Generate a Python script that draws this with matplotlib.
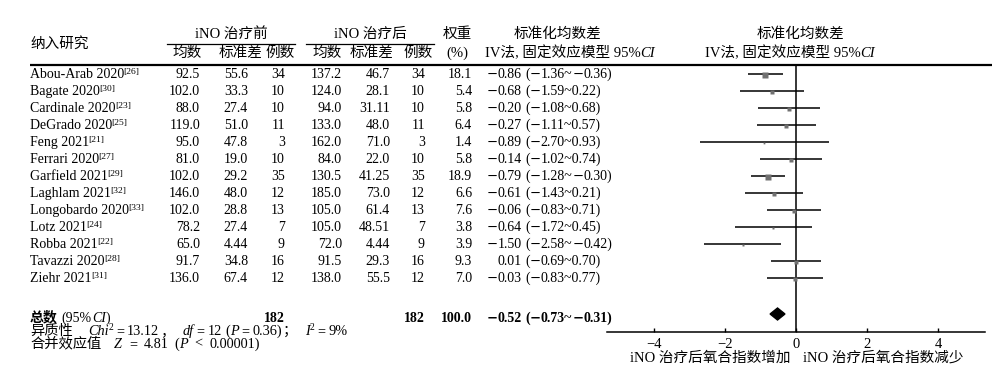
import matplotlib
matplotlib.use('Agg')
import matplotlib.pyplot as plt
from matplotlib.patches import Polygon
import numpy as np

# ---------------- data ----------------
studies = ["Abou-Arab 2020", "Bagate 2020", "Cardinale 2020", "DeGrado 2020", "Feng 2021",
           "Ferrari 2020", "Garfield 2021", "Laghlam 2021", "Longobardo 2020", "Lotz 2021",
           "Robba 2021", "Tavazzi 2020", "Ziehr 2021"]
refs = ["26", "30", "23", "25", "21", "27", "29", "32", "33", "24", "22", "28", "31"]
pre_mean = [92.5, 102.0, 88.0, 119.0, 95.0, 81.0, 102.0, 146.0, 102.0, 78.2, 65.0, 91.7, 136.0]
pre_sd = [55.6, 33.3, 27.4, 51.0, 47.8, 19.0, 29.2, 48.0, 28.8, 27.4, 4.44, 34.8, 67.4]
pre_n = [34, 10, 10, 11, 3, 10, 35, 12, 13, 7, 9, 16, 12]
post_mean = [137.2, 124.0, 94.0, 133.0, 162.0, 84.0, 130.5, 185.0, 105.0, 105.0, 72.0, 91.5, 138.0]
post_sd = [46.7, 28.1, 31.11, 48.0, 71.0, 22.0, 41.25, 73.0, 61.4, 48.51, 4.44, 29.3, 55.5]
post_n = [34, 10, 10, 11, 3, 10, 35, 12, 13, 7, 9, 16, 12]
weights = [18.1, 5.4, 5.8, 6.4, 1.4, 5.8, 18.9, 6.6, 7.6, 3.8, 3.9, 9.3, 7.0]
smd = [-0.86, -0.68, -0.20, -0.27, -0.89, -0.14, -0.79, -0.61, -0.06, -0.64, -1.50, 0.01, -0.03]
ci_lo = [-1.36, -1.59, -1.08, -1.11, -2.70, -1.02, -1.28, -1.43, -0.83, -1.72, -2.58, -0.69, -0.83]
ci_hi = [-0.36, 0.22, 0.68, 0.57, 0.93, 0.74, -0.30, 0.21, 0.71, 0.45, -0.42, 0.70, 0.77]
total_pre_n = 182
total_post_n = 182
total_weight = 100.0
pooled = -0.52
pooled_lo = -0.73
pooled_hi = -0.31
xticks = [-4, -2, 0, 2, 4]

# ---------------- figure ----------------
plt.rcParams['font.family'] = ['Liberation Serif', 'Noto Sans CJK SC']
plt.rcParams['axes.unicode_minus'] = True
FS = 10
HFS = 10.5
BOFF = 4.8  # baseline offset from visual centre (pixels)
MINUS = '\u2212'

fig = plt.figure(figsize=(10, 3.81), dpi=100)
ax_t = fig.add_axes([0, 0, 1, 1])
ax_t.set_xlim(0, 1000)
ax_t.set_ylim(381, 0)
ax_t.axis('off')
renderer = fig.canvas.get_renderer()


def T(x, y, s, ha='left', size=FS, **kw):
    return ax_t.text(x, y + BOFF, s, va='baseline', ha=ha, fontsize=size, **kw)


def runs(x, y, parts, ha='left', **base):
    items = []
    total = 0.0
    for p in parts:
        if isinstance(p, (int, float)):
            items.append((None, float(p)))
            total += p
            continue
        s, opt = p
        kw = dict(fontsize=FS)
        kw.update(base)
        kw.update(opt)
        sup = kw.pop('sup', False)
        yy = y + BOFF
        if sup:
            kw['fontsize'] = kw['fontsize'] * 0.68
            yy = y + BOFF - 4.5
        t = ax_t.text(0, yy, s, va='baseline', ha='left', **kw)
        w = t.get_window_extent(renderer).width
        items.append((t, w))
        total += w
    if ha == 'right':
        cur = x - total
    elif ha == 'center':
        cur = x - total / 2
    else:
        cur = x
    for t, w in items:
        if t is not None:
            t.set_x(cur)
        cur += w


def num_parts(s):
    parts = []
    chunks = s.split(MINUS)
    for k, c in enumerate(chunks):
        if k > 0:
            parts.append((MINUS, {'family': 'DejaVu Sans', 'fontsize': FS * 0.95}))
        if c:
            parts.append((c, {}))
    return parts


def fmt(v):
    return f"{v:.2f}" if round(v, 1) != v else f"{v:.1f}"


def m(v):
    return f"{v:.2f}".replace('-', MINUS)


# header
T(30, 43, "纳入研究", size=HFS)
T(231, 33, "iNO 治疗前", ha='center', size=HFS)
T(370, 33, "iNO 治疗后", ha='center', size=HFS)
ax_t.plot([167, 295], [43.5, 43.5], color='black', lw=0.9)
ax_t.plot([306, 434], [43.5, 43.5], color='black', lw=0.9)
for xc, s in [(187, "均数"), (241, "标准差"), (280, "例数"), (327, "均数"), (372, "标准差"), (418, "例数")]:
    T(xc, 52, s, ha='center', size=HFS)
T(457, 33, "权重", ha='center', size=HFS)
T(457, 52, "(%)", ha='center', size=HFS)
T(557, 33, "标准化均数差", ha='center', size=HFS)
runs(570, 52, [("IV法, 固定效应模型 95%", {}), ("CI", {'style': 'italic'})], ha='center', fontsize=HFS)
T(800, 33, "标准化均数差", ha='center', size=HFS)
runs(790, 52, [("IV法, 固定效应模型 95%", {}), ("CI", {'style': 'italic'})], ha='center', fontsize=HFS)
ax_t.plot([30, 992], [65, 65], color='black', lw=1.6, solid_capstyle='butt')

# rows
row_y = [73.5 + 17.0 * i for i in range(len(studies))]
for i, y in enumerate(row_y):
    runs(30, y, [(studies[i], {}), -0.5, ("[" + refs[i] + "]", {'sup': True})])
    T(200, y, f"{pre_mean[i]:.1f}", ha='right')
    T(248, y, fmt(pre_sd[i]), ha='right')
    T(285, y, f"{pre_n[i]}", ha='right')
    T(342, y, f"{post_mean[i]:.1f}", ha='right')
    T(390, y, fmt(post_sd[i]), ha='right')
    T(425, y, f"{post_n[i]}", ha='right')
    T(472, y, f"{weights[i]:.1f}", ha='right')
    runs(522, y, num_parts(m(smd[i])), ha='right')
    runs(525, y, num_parts(f"({m(ci_lo[i])}~{m(ci_hi[i])})"), ha='left')

# totals
ty = 317
runs(30, ty, [("总数", {'weight': 'bold'}), 4, ("(95%", {}), ("CI", {'style': 'italic'}), (")", {})])
T(285, ty, f"{total_pre_n}", ha='right', weight='bold')
T(425, ty, f"{total_post_n}", ha='right', weight='bold')
T(472, ty, f"{total_weight:.1f}", ha='right', weight='bold')
runs(522, ty, num_parts(m(pooled)), ha='right', weight='bold')
runs(525, ty, num_parts(f"({m(pooled_lo)}~{m(pooled_hi)})"), ha='left', weight='bold')

it = {'style': 'italic'}
sup = {'sup': True}
g = 3
runs(30, 330, [("异质性", {}), 15, ("Chi", it), ("2", sup), g, ("=", {}), g, ("13.12", {}), 1, ("，", {}), 8,
               ("df", it), g, ("=", {}), g, ("12", {}), 3, ("(", {}), ("P", it), g, ("=", {}), g,
               ("0.36)", {}), 1, ("；", {}), 8, ("I", it), ("2", sup), g, ("=", {}), g, ("9%", {})],
     fontsize=10.3)
g2 = 7
runs(30, 343, [("合并效应值", {}), 13, ("Z", it), g2, ("=", {}), g2, ("4.81", {}), 5, ("(", {}),
               ("P", it), g2, ("<", {}), g2, ("0.00001)", {})],
     fontsize=10.3)

# ---------------- forest ----------------
L, R, Tp, B = 607, 985, 65, 332
ax_f = fig.add_axes([L / 1000, 1 - B / 381, (R - L) / 1000, (B - Tp) / 381])
ax_f.set_xlim(-5.32, 5.32)
ax_f.set_ylim(B, Tp)
ax_f.patch.set_alpha(0)
for s in ['top', 'left', 'right']:
    ax_f.spines[s].set_visible(False)
ax_f.spines['bottom'].set_linewidth(1.1)
ax_f.set_yticks([])
ax_f.set_xticks(xticks)
ax_f.tick_params(axis='x', direction='in', length=3, width=1, labelsize=HFS, pad=4)
ax_f.axvline(0, color='black', lw=1.1)

for i, y in enumerate(row_y):
    ax_f.plot([ci_lo[i], ci_hi[i]], [y, y], color='black', lw=1.1, solid_capstyle='butt')
    ms = 1.05 * np.sqrt(weights[i])
    ax_f.plot(smd[i], y + 1, marker='s', ms=ms, color='#707070', mec='none', linestyle='none')

dy = 314
diamond = Polygon([[pooled_lo, dy], [pooled, dy - 6], [pooled_hi, dy], [pooled, dy + 6]],
                  closed=True, color='black')
ax_f.add_patch(diamond)

T(790, 357, "iNO 治疗后氧合指数增加", ha='right', size=HFS)
T(803, 357, "iNO 治疗后氧合指数减少", ha='left', size=HFS)

fig.savefig('out.png', dpi=100)
